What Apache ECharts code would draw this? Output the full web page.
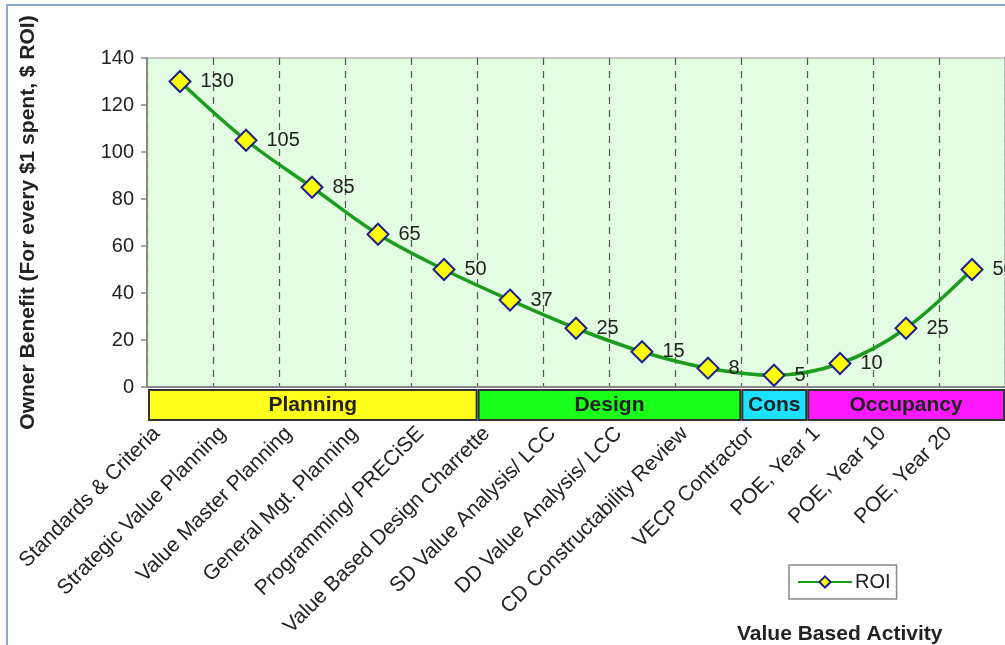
<!DOCTYPE html>
<html>
<head>
<meta charset="utf-8">
<title>Owner Benefit by Value Based Activity</title>
<script src="https://cdn.jsdelivr.net/npm/echarts@6/dist/echarts.min.js"></script>
<style>
  html, body { margin: 0; padding: 0; background: #fff; }
  #chart { width: 1005px; height: 645px; }
</style>
</head>
<body>
<div id="chart"></div>
<script>
// activities along the x axis
var activities = [
  'Standards & Criteria',
  'Strategic Value Planning',
  'Value Master Planning',
  'General Mgt. Planning',
  'Programming/ PRECiSE',
  'Value Based Design Charrette',
  'SD Value Analysis/ LCC',
  'DD Value Analysis/ LCC',
  'CD Constructability Review',
  'VECP Contractor',
  'POE, Year 1',
  'POE, Year 10',
  'POE, Year 20'
]
// ROI per activity
var roi = [130, 105, 85, 65, 50, 37, 25, 15, 8, 5, 10, 25, 50]
// y axis ticks
var yTicks = [0, 20, 40, 60, 80, 100, 120, 140]
// project phases and how many activities each one covers
var phaseNames = ['Planning', 'Design', 'Cons', 'Occupancy']
var phaseSpans = [5, 4, 1, 3]
var phaseColors = ['#ffff1a', '#19ff19', '#1ae2ff', '#ff19ff']

var FONT = 'Liberation Sans, Arial, sans-serif'
var chart = echarts.init(document.getElementById('chart'), null, { renderer: 'canvas' })

var phaseSeries = phaseNames.map(function(name, i) {
  return {
    name: name,
    type: 'bar',
    xAxisIndex: 1,
    yAxisIndex: 1,
    stack: 'phase',
    barWidth: '100%',
    silent: true,
    data: [phaseSpans[i]],
    itemStyle: { color: phaseColors[i], borderColor: '#333', borderWidth: 2 },
    label: {
      show: true,
      position: 'inside',
      formatter: name,
      fontFamily: FONT,
      fontWeight: 'bold',
      fontSize: 21,
      color: '#222'
    }
  }
})

chart.setOption({
  backgroundColor: '#fff',
  animation: false,
  title: {
    text: 'Value Based Activity',
    left: 732,
    top: 619,
    textStyle: { fontFamily: FONT, fontSize: 21, fontWeight: 'bold', color: '#222' }
  },
  legend: {
    data: ['ROI'],
    left: 789,
    top: 565,
    padding: [7, 6, 7, 8],
    backgroundColor: '#fff',
    borderColor: '#888',
    borderWidth: 1.5,
    borderRadius: 0,
    itemWidth: 54,
    itemHeight: 14,
    itemGap: 4,
    textStyle: { fontFamily: FONT, fontSize: 20, color: '#222', padding: [0, 0, 0, -2] }
  },
  graphic: [{
    type: 'rect',
    silent: true,
    shape: { x: 7, y: 5, width: 1100, height: 700 },
    style: { fill: 'none', stroke: '#8eaadb', lineWidth: 2 }
  }],
  grid: [{
    left: 147,
    right: -5,
    top: 58,
    bottom: 258,
    show: true,
    backgroundColor: '#e3fde3',
    borderColor: '#999',
    borderWidth: 1
  }, {
    left: 148,
    right: -5,
    top: 389,
    height: 32
  }],
  xAxis: [{
    type: 'category',
    data: activities,
    boundaryGap: true,
    axisLine: { lineStyle: { color: '#888', width: 2 } },
    axisTick: { show: false },
    splitLine: { show: true, lineStyle: { color: '#555', type: [7, 6], width: 1.2 } },
    axisLabel: {
      interval: 0,
      rotate: 45,
      margin: 20,
      padding: [0, 33, 0, 0],
      fontFamily: FONT,
      fontSize: 21,
      color: '#222'
    }
  }, {
    gridIndex: 1,
    type: 'value',
    min: 0,
    max: 13,
    show: false
  }],
  yAxis: [{
    type: 'value',
    min: yTicks[0],
    max: yTicks[yTicks.length - 1],
    interval: 20,
    name: 'Owner Benefit (For every $1 spent, $ ROI)',
    nameLocation: 'middle',
    nameGap: 108,
    nameTextStyle: { fontFamily: FONT, fontSize: 21, fontWeight: 'bold', color: '#222' },
    axisLine: { show: true, lineStyle: { color: '#888', width: 2 } },
    axisTick: { show: true, length: 6, lineStyle: { color: '#888', width: 1.5 } },
    splitLine: { show: false },
    axisLabel: { margin: 13, fontFamily: FONT, fontSize: 20, color: '#222' }
  }, {
    gridIndex: 1,
    type: 'category',
    data: ['phase'],
    show: false
  }],
  series: [{
    name: 'ROI',
    type: 'line',
    data: roi,
    smooth: 0.35,
    symbol: 'diamond',
    symbolSize: 21,
    lineStyle: { color: '#1c9c1c', width: 3.5 },
    itemStyle: { color: '#ffff00', borderColor: '#20208f', borderWidth: 2 },
    label: {
      show: true,
      position: 'right',
      distance: 9,
      fontFamily: FONT,
      fontSize: 20,
      color: '#222'
    }
  }].concat(phaseSeries)
})
</script>
</body>
</html>
